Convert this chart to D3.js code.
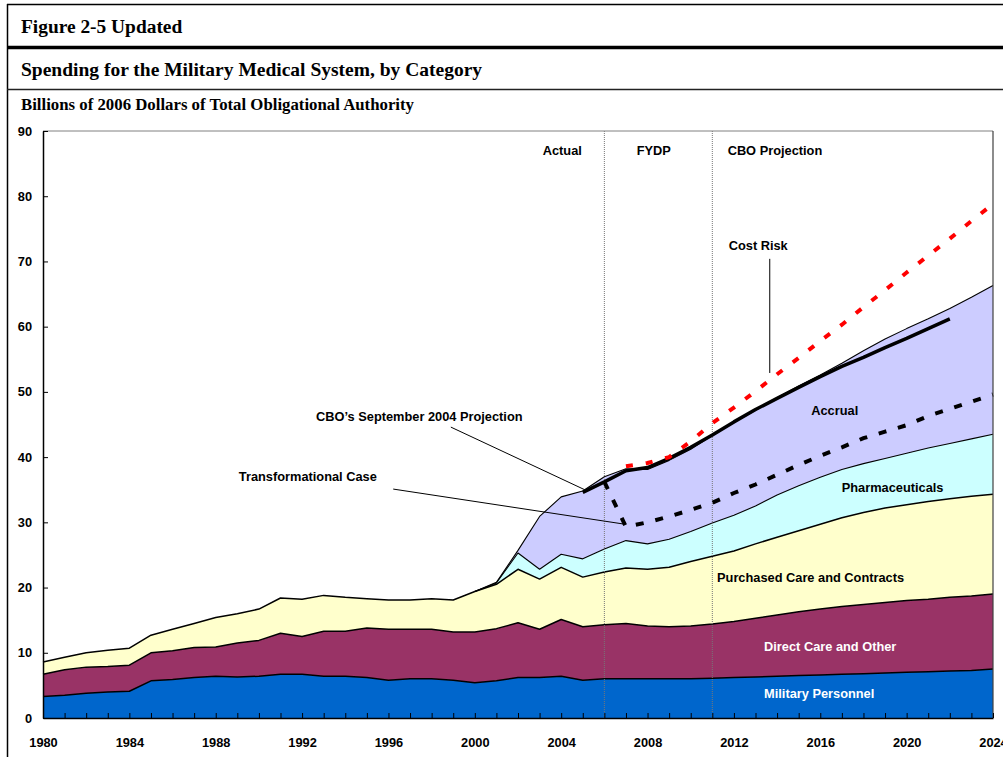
<!DOCTYPE html>
<html>
<head>
<meta charset="utf-8">
<script src="https://cdn.jsdelivr.net/npm/d3@7"></script>
<style>
  body { margin: 0; background: #fff; }
  svg { display: block; }
  .lbl { font-family: "Liberation Sans", Arial, sans-serif; font-weight: bold; font-size: 12.8px; }
  .ttl { font-family: "Liberation Serif", "Times New Roman", serif; font-weight: bold; }
</style>
</head>
<body>
<div id="chart"></div>
<script>
// categories
var years = d3.range(1980, 2025);
var keys = ['military', 'direct', 'purchased', 'pharma', 'accrual'];

// stacked series, billions of 2006 dollars, 1980-2024
var militaryPersonnel = [3.3, 3.5, 3.8, 4.0, 4.1, 5.7, 5.9, 6.2, 6.4, 6.3,
  6.4, 6.7, 6.7, 6.4, 6.4, 6.2, 5.8, 6.0, 6.0, 5.8,
  5.4, 5.7, 6.2, 6.2, 6.4, 5.8, 6.0, 6.0, 6.0, 6.0,
  6.0, 6.1, 6.2, 6.3, 6.4, 6.5, 6.6, 6.7, 6.8, 6.9,
  7.0, 7.1, 7.2, 7.3, 7.5];
var directCare = [3.4, 3.9, 4.0, 3.9, 4.0, 4.3, 4.4, 4.6, 4.5, 5.2,
  5.5, 6.3, 5.8, 6.9, 6.9, 7.6, 7.8, 7.6, 7.6, 7.4,
  7.8, 8.0, 8.4, 7.4, 8.7, 8.2, 8.3, 8.5, 8.1, 8.0,
  8.1, 8.3, 8.6, 9.0, 9.4, 9.8, 10.1, 10.4, 10.6, 10.8,
  11.0, 11.1, 11.3, 11.4, 11.5];
var purchasedCare = [1.9, 1.9, 2.2, 2.5, 2.6, 2.7, 3.3, 3.7, 4.5, 4.5,
  4.8, 5.4, 5.7, 5.5, 5.2, 4.5, 4.5, 4.5, 4.7, 4.9,
  6.2, 6.8, 8.2, 7.7, 8.0, 7.6, 8.1, 8.5, 8.7, 9.1,
  9.9, 10.4, 10.8, 11.4, 11.9, 12.4, 13.0, 13.6, 14.1, 14.5,
  14.7, 15.0, 15.1, 15.3, 15.3];
var pharmaceuticals = [0, 0, 0, 0, 0, 0, 0, 0, 0, 0,
  0, 0, 0, 0, 0, 0, 0, 0, 0, 0,
  0, 0.2, 2.5, 1.5, 2.0, 2.8, 3.5, 4.2, 3.9, 4.3,
  4.6, 5.1, 5.5, 5.8, 6.5, 6.9, 7.2, 7.4, 7.5, 7.6,
  7.9, 8.2, 8.5, 8.8, 9.2];
var accrual = [0, 0, 0, 0, 0, 0, 0, 0, 0, 0,
  0, 0, 0, 0, 0, 0, 0, 0, 0, 0,
  0, 0.1, 0.4, 8.1, 8.8, 10.4, 11.1, 11.0, 11.4, 12.1,
  12.6, 13.4, 14.2, 14.7, 14.9, 15.3, 15.7, 16.3, 17.3, 18.3,
  19.1, 19.8, 20.7, 21.7, 22.8];

// overlay lines
var cboYears = d3.range(2005, 2023);
var cboSept2004 = [34.6, 36.2, 37.9, 38.4, 39.8, 41.5, 43.4, 45.4, 47.3, 49.0,
  50.7, 52.35, 53.9, 55.3, 56.8, 58.2, 59.7, 61.2];
var transYears = d3.range(2006, 2025);
var transformational = [36.2, 29.3, 30.0, 30.9, 31.9, 33.0, 34.5, 35.8, 37.3, 38.8,
  40.2, 41.5, 42.9, 43.9, 44.9, 46.3, 47.4, 48.5, 49.6];
var riskYears = d3.range(2007, 2025);
var costRisk = [38.6, 39.1, 40.0, 42.4, 45.2, 47.6, 50.1, 52.7, 55.2, 57.8,
  60.3, 63.0, 65.6, 68.3, 70.9, 73.5, 76.2, 78.8];

var yTicks = d3.range(0, 91, 10);
var xLabelYears = d3.range(1980, 2025, 4);
var periodBreaks = [2006, 2011];

var colors = {
  military: '#0066CC',
  direct: '#993366',
  purchased: '#FFFFCC',
  pharma: '#CCFFFF',
  accrual: '#CCCCFF'
};

var width = 1003, height = 757;
var x = d3.scaleLinear().domain([1980, 2024]).range([43, 993]);
var y = d3.scaleLinear().domain([0, 90]).range([718, 131]);

var svg = d3.select('#chart').append('svg')
  .attr('width', width)
  .attr('height', height);

// page frame and headings
svg.append('line').attr('x1', 7).attr('x2', width).attr('y1', 4.5).attr('y2', 4.5)
  .attr('stroke', '#000').attr('stroke-width', 1.5);
svg.append('line').attr('x1', 7.5).attr('x2', 7.5).attr('y1', 4).attr('y2', height)
  .attr('stroke', '#000').attr('stroke-width', 1.5);
svg.append('line').attr('x1', 7).attr('x2', width).attr('y1', 47.5).attr('y2', 47.5)
  .attr('stroke', '#000').attr('stroke-width', 3.5);
svg.append('line').attr('x1', 7).attr('x2', width).attr('y1', 89.5).attr('y2', 89.5)
  .attr('stroke', '#222').attr('stroke-width', 1.5);

svg.append('text').attr('class', 'ttl').attr('x', 21).attr('y', 33)
  .style('font-size', '19.4px').text('Figure 2-5 Updated');
svg.append('text').attr('class', 'ttl').attr('x', 21).attr('y', 76)
  .style('font-size', '19.5px').text('Spending for the Military Medical System, by Category');
svg.append('text').attr('class', 'ttl').attr('x', 21).attr('y', 110)
  .style('font-size', '16.8px').text('Billions of 2006 Dollars of Total Obligational Authority');

// stacked areas
var table = years.map(function (yr, i) {
  return {
    year: yr,
    military: militaryPersonnel[i],
    direct: directCare[i],
    purchased: purchasedCare[i],
    pharma: pharmaceuticals[i],
    accrual: accrual[i]
  };
});

var stacked = d3.stack().keys(keys)(table);

function isShown(key) {
  return function (d) {
    if (key === 'pharma' || key === 'accrual') { return d.data.year >= 2000; }
    return true;
  };
}

stacked.forEach(function (layer) {
  var area = d3.area()
    .defined(isShown(layer.key))
    .x(function (d) { return x(d.data.year); })
    .y0(function (d) { return y(d[0]); })
    .y1(function (d) { return y(d[1]); });
  svg.append('path')
    .datum(layer)
    .attr('fill', colors[layer.key])
    .attr('d', area);
});

stacked.forEach(function (layer) {
  var top = d3.line()
    .defined(isShown(layer.key))
    .x(function (d) { return x(d.data.year); })
    .y(function (d) { return y(d[1]); });
  svg.append('path')
    .datum(layer)
    .attr('fill', 'none')
    .attr('stroke', '#000')
    .attr('stroke-width', layer.key === 'accrual' || layer.key === 'pharma' ? 1.1 : 1.5)
    .attr('stroke-linejoin', 'round')
    .attr('d', top);
});

// period separators
svg.selectAll('.period')
  .data(periodBreaks)
  .enter().append('line')
  .attr('x1', function (d) { return x(d); })
  .attr('x2', function (d) { return x(d); })
  .attr('y1', y(90))
  .attr('y2', y(0))
  .attr('stroke', '#777')
  .attr('stroke-width', 1)
  .attr('stroke-dasharray', '1,1');

// overlay lines
function seriesLine(yrs, vals) {
  return d3.line()
    .x(function (d, i) { return x(yrs[i]); })
    .y(function (d) { return y(d); })(vals);
}

svg.append('path')
  .attr('d', seriesLine(transYears, transformational))
  .attr('fill', 'none').attr('stroke', '#000').attr('stroke-width', 4)
  .attr('stroke-dasharray', '8,12');

svg.append('path')
  .attr('d', seriesLine(cboYears, cboSept2004))
  .attr('fill', 'none').attr('stroke', '#000').attr('stroke-width', 3.5)
  .attr('stroke-linejoin', 'round');

svg.append('path')
  .attr('d', seriesLine(riskYears, costRisk))
  .attr('fill', 'none').attr('stroke', '#FF0000').attr('stroke-width', 4)
  .attr('stroke-dasharray', '7,13');

// leader lines
var leaders = [
  [[2013.66, 70.4], [2013.66, 52.9]],
  [[1998.89, 44.6], [2005.09, 35.0]],
  [[1996.22, 35.1], [2006.87, 29.75]]
];
svg.selectAll('.leader')
  .data(leaders)
  .enter().append('line')
  .attr('x1', function (d) { return x(d[0][0]); })
  .attr('y1', function (d) { return y(d[0][1]); })
  .attr('x2', function (d) { return x(d[1][0]); })
  .attr('y2', function (d) { return y(d[1][1]); })
  .attr('stroke', '#000')
  .attr('stroke-width', 1);

// text labels
var labels = [
  { text: 'Actual', year: 2004.05, value: 87.1, anchor: 'middle', fill: '#000' },
  { text: 'FYDP', year: 2008.29, value: 87.1, anchor: 'middle', fill: '#000' },
  { text: 'CBO Projection', year: 2011.71, value: 87.1, anchor: 'start', fill: '#000' },
  { text: 'Cost Risk', year: 2011.76, value: 72.5, anchor: 'start', fill: '#000' },
  { text: 'CBO\u2019s September 2004 Projection', year: 1997.43, value: 46.2, anchor: 'middle', fill: '#000' },
  { text: 'Transformational Case', year: 1989.07, value: 37.0, anchor: 'start', fill: '#000' },
  { text: 'Accrual', year: 2016.67, value: 47.2, anchor: 'middle', fill: '#000' },
  { text: 'Pharmaceuticals', year: 2019.35, value: 35.4, anchor: 'middle', fill: '#000' },
  { text: 'Purchased Care and Contracts', year: 2015.55, value: 21.6, anchor: 'middle', fill: '#000' },
  { text: 'Direct Care and Other', year: 2016.46, value: 11.0, anchor: 'middle', fill: '#fff' },
  { text: 'Military Personnel', year: 2015.95, value: 3.7, anchor: 'middle', fill: '#fff' }
];
svg.selectAll('.note')
  .data(labels)
  .enter().append('text')
  .attr('class', 'lbl')
  .attr('x', function (d) { return x(d.year); })
  .attr('y', function (d) { return y(d.value); })
  .attr('dy', '0.36em')
  .attr('text-anchor', function (d) { return d.anchor; })
  .attr('fill', function (d) { return d.fill; })
  .text(function (d) { return d.text; });

// plot frame
svg.append('line').attr('x1', x(1980)).attr('x2', x(2024)).attr('y1', y(90)).attr('y2', y(90))
  .attr('stroke', '#808080').attr('stroke-width', 1);
svg.append('line').attr('x1', x(2024)).attr('x2', x(2024)).attr('y1', y(90)).attr('y2', y(0))
  .attr('stroke', '#404040').attr('stroke-width', 1.2);

// axes
var yAxis = d3.axisLeft(y)
  .tickValues(yTicks)
  .tickSizeInner(-5)
  .tickSizeOuter(0)
  .tickPadding(11);
var gy = svg.append('g').attr('transform', 'translate(' + x(1980) + ',0)').call(yAxis);

var xAxis = d3.axisBottom(x)
  .tickValues(years)
  .tickSizeInner(-5)
  .tickSizeOuter(0)
  .tickPadding(20)
  .tickFormat(function (d) { return xLabelYears.indexOf(d) >= 0 ? String(d) : ''; });
var gx = svg.append('g').attr('transform', 'translate(0,' + y(0) + ')').call(xAxis);

[gx, gy].forEach(function (g) {
  g.select('.domain').attr('stroke', '#000').attr('stroke-width', 1.5);
  g.selectAll('.tick line').attr('stroke', '#000');
  g.selectAll('.tick text')
    .attr('class', 'lbl')
    .attr('fill', '#000')
    .style('font-size', '12.8px');
});
</script>
</body>
</html>
